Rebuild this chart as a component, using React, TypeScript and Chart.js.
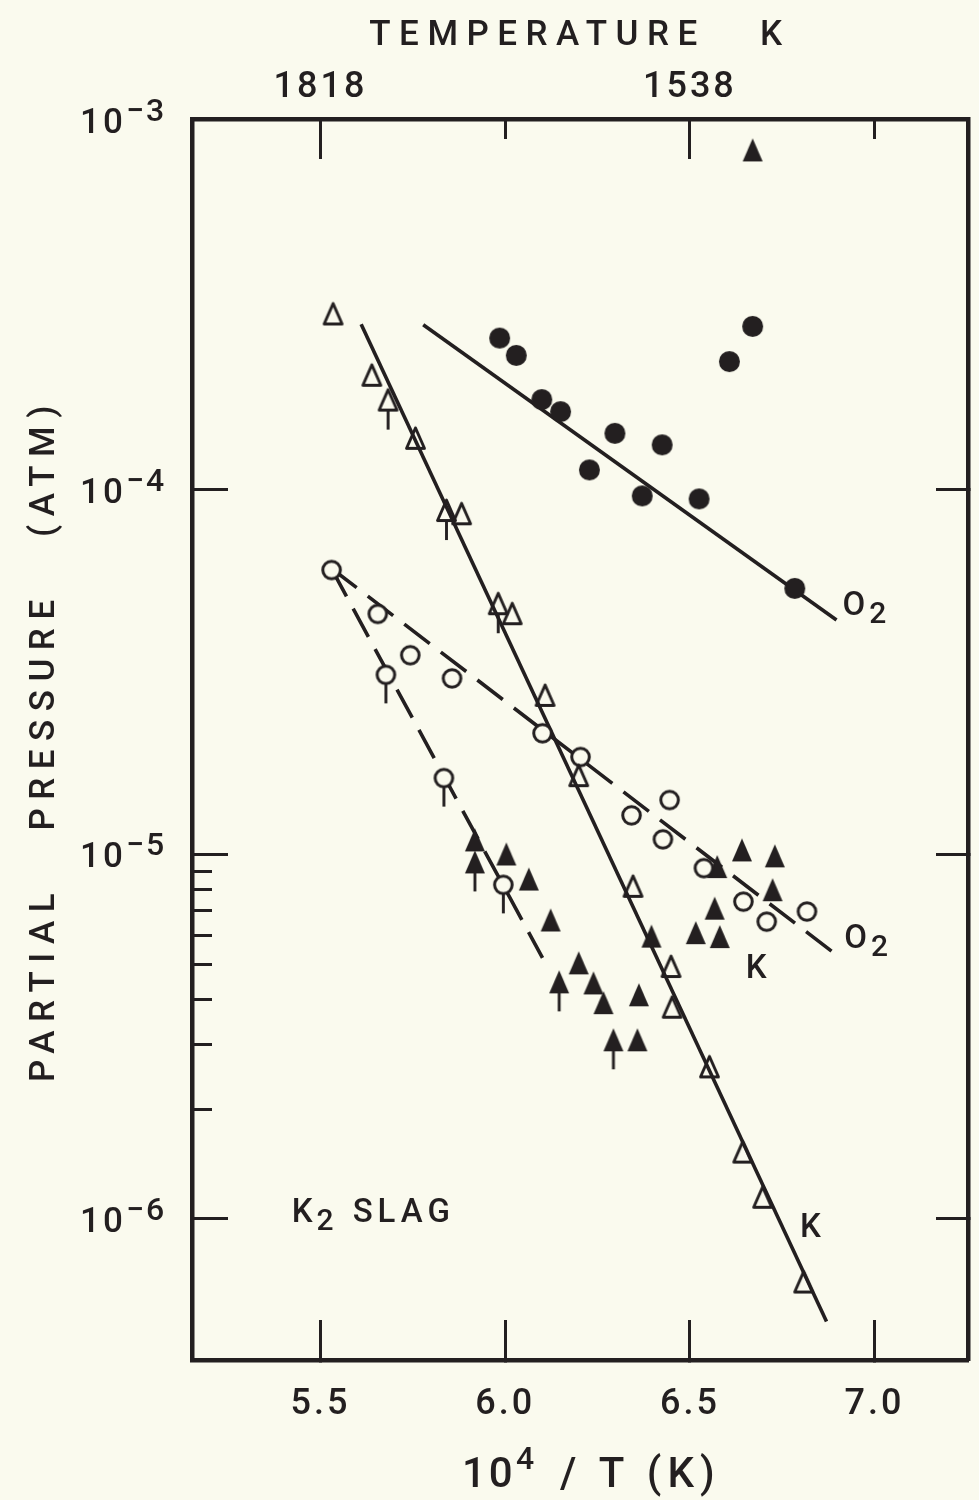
import React, { useEffect, useRef } from 'react';
import { Chart, registerables } from 'chart.js';

Chart.register(...registerables);

// ---------------- data ----------------
// O2 over K2 slag, solid circles, with solid fit line
const O2_SOLID_X = [5.985, 6.030, 6.099, 6.150, 6.297, 6.425, 6.228, 6.607, 6.670, 6.371, 6.525, 6.784];
const O2_SOLID_Y = [2.61e-4, 2.34e-4, 1.77e-4, 1.64e-4, 1.43e-4, 1.33e-4, 1.135e-4, 2.25e-4, 2.81e-4, 9.63e-5, 9.45e-5, 5.37e-5];
const O2_SOLID_FIT_X = [5.778, 6.897];
const O2_SOLID_FIT_Y = [2.84e-4, 4.40e-5];

// K, open triangles, with solid fit line
const K_OPEN_X = [5.534, 5.639, 5.683, 5.757, 5.841, 5.882, 5.981, 6.019, 6.108, 6.199, 6.346, 6.449, 6.452, 6.553, 6.643, 6.697, 6.808];
const K_OPEN_Y = [3.05e-4, 2.07e-4, 1.77e-4, 1.39e-4, 8.81e-5, 8.63e-5, 4.89e-5, 4.59e-5, 2.74e-5, 1.65e-5, 8.2e-6, 4.94e-6, 3.82e-6, 2.62e-6, 1.53e-6, 1.15e-6, 6.73e-7];
const K_OPEN_LOWER_LIMIT = [0, 0, 1, 0, 1, 0, 1, 0, 0, 0, 0, 0, 0, 0, 0, 0, 0];
const K_FIT_X = [5.61, 6.870];
const K_FIT_Y = [2.85e-4, 5.23e-7];

// O2, open circles, with two dashed fit lines
const O2_OPEN_X = [5.530, 5.655, 5.743, 5.677, 5.856, 6.101, 6.204, 5.834, 5.995, 6.342, 6.445, 6.427, 6.538, 6.645, 6.708, 6.817];
const O2_OPEN_Y = [6.03e-5, 4.57e-5, 3.52e-5, 3.11e-5, 3.04e-5, 2.15e-5, 1.85e-5, 1.62e-5, 8.25e-6, 1.28e-5, 1.41e-5, 1.10e-5, 9.17e-6, 7.42e-6, 6.54e-6, 6.97e-6];
const O2_OPEN_LOWER_LIMIT = [0, 0, 0, 1, 0, 0, 0, 1, 1, 0, 0, 0, 0, 0, 0, 0];
const O2_DASH_UPPER_X = [5.529, 6.900];
const O2_DASH_UPPER_Y = [6.1e-5, 5.27e-6];
const O2_DASH_LOWER_X = [5.529, 6.101];
const O2_DASH_LOWER_Y = [6.1e-5, 5.20e-6];

// K, solid triangles
const K_SOLID_X = [5.918, 5.918, 6.003, 6.064, 6.123, 6.199, 6.146, 6.239, 6.266, 6.362, 6.293, 6.358, 6.396, 6.516, 6.567, 6.581, 6.574, 6.641, 6.730, 6.724, 6.670];
const K_SOLID_Y = [1.096e-5, 9.54e-6, 1.003e-5, 8.56e-6, 6.61e-6, 5.04e-6, 4.47e-6, 4.44e-6, 3.92e-6, 4.12e-6, 3.10e-6, 3.10e-6, 5.97e-6, 6.10e-6, 7.12e-6, 5.95e-6, 9.26e-6, 1.029e-5, 9.91e-6, 8.0e-6, 8.57e-4];
const K_SOLID_LOWER_LIMIT = [0, 1, 0, 0, 0, 0, 1, 0, 0, 0, 1, 0, 0, 0, 0, 0, 0, 0, 0, 0, 0];

// axes
const X_MIN = 5.152;
const X_MAX = 7.253;
const Y_MIN = 4.1e-7;
const Y_MAX = 1.042e-3;
const X_TICKS = [5.5, 6.0, 6.5, 7.0];
const TOP_LABELED_TICKS = [5.5, 6.5];
const TOP_SHORT_TICKS = [6.0, 7.0];
const Y_MAJOR_TICKS = [1e-4, 1e-5, 1e-6];
const Y_MINOR_TICKS = [9e-6, 8e-6, 7e-6, 6e-6, 5e-6, 4e-6, 3e-6, 2e-6];
const Y_LABEL_DECADES = [-3, -4, -5, -6];

// text annotations anchored in data space
const ANNOTATIONS = [
  { base: 'O', sub: '2', tail: '', x: 6.913, y: 4.54e-5 },
  { base: 'O', sub: '2', tail: '', x: 6.918, y: 5.54e-6 },
  { base: 'K', sub: '', tail: '', x: 6.651, y: 4.58e-6 },
  { base: 'K', sub: '', tail: '', x: 6.798, y: 8.92e-7 },
  { base: 'K', sub: '2', tail: 'SLAG', x: 5.422, y: 9.81e-7 },
];

// ---------------- styling ----------------
const INK = '#231f20';
const BG = '#fafaee';
const FONT = 'Roboto, "Liberation Sans", Arial, sans-serif';
const WEIGHT = 500;

const pts = (xs: number[], ys: number[]) => xs.map((x, i) => ({ x, y: ys[i] }));

type Kind = 'filledCircle' | 'openCircle' | 'filledTriangle' | 'openTriangle';

function makeMarker(kind: Kind, arrow: boolean): HTMLCanvasElement {
  const isCircle = kind === 'filledCircle' || kind === 'openCircle';
  const hw = isCircle ? 10.5 : kind === 'openTriangle' ? 10.5 : 10;
  const hh = isCircle ? 10.5 : kind === 'openTriangle' ? 12 : 11.5;
  const stem = arrow ? 18 : 0;
  const W = Math.ceil(hw * 2 + 4);
  const H = Math.ceil((hh + stem) * 2 + 4);
  const c = document.createElement('canvas');
  c.width = W;
  c.height = H;
  const g = c.getContext('2d') as CanvasRenderingContext2D;
  const cx = W / 2;
  const cy = H / 2;
  g.strokeStyle = INK;
  g.fillStyle = INK;
  g.lineWidth = 2.9;
  g.lineJoin = 'round';
  if (arrow) {
    g.beginPath();
    g.moveTo(cx, cy + hh - 2);
    g.lineTo(cx, cy + hh + stem);
    g.stroke();
  }
  g.beginPath();
  if (kind === 'filledCircle') {
    g.arc(cx, cy, 10.5, 0, Math.PI * 2);
    g.fill();
  } else if (kind === 'openCircle') {
    g.arc(cx, cy, 8.8, 0, Math.PI * 2);
    g.fillStyle = BG;
    g.fill();
    g.lineWidth = 3;
    g.stroke();
  } else if (kind === 'filledTriangle') {
    g.moveTo(cx, cy - hh);
    g.lineTo(cx + hw, cy + hh);
    g.lineTo(cx - hw, cy + hh);
    g.closePath();
    g.fill();
  } else {
    const i = 1.5;
    g.moveTo(cx, cy - hh + i + 0.6);
    g.lineTo(cx + hw - i, cy + hh - i);
    g.lineTo(cx - hw + i, cy + hh - i);
    g.closePath();
    g.stroke();
  }
  return c;
}

function setFont(ctx: any, size: number, ls: number) {
  ctx.font = `${WEIGHT} ${size}px ${FONT}`;
  ctx.letterSpacing = `${ls}px`;
}

const stylePlugin = {
  id: 'figureStyle',
  beforeDraw(chart: any) {
    const ctx = chart.ctx;
    ctx.save();
    ctx.fillStyle = BG;
    ctx.fillRect(0, 0, chart.width, chart.height);
    ctx.restore();
    // spacing used by the axis titles (drawn before the datasets)
    ctx.letterSpacing = '8.5px';
    ctx.wordSpacing = '10px';
  },
  beforeDatasetsDraw(chart: any) {
    chart.ctx.letterSpacing = '0px';
    chart.ctx.wordSpacing = '0px';
  },
  afterDatasetsDraw(chart: any) {
    // spacing used by the tick labels (drawn after the datasets)
    chart.ctx.letterSpacing = '3px';
  },
  afterDraw(chart: any) {
    const ctx = chart.ctx;
    const ys = chart.scales.y;
    const xs = chart.scales.x;
    ctx.save();
    ctx.fillStyle = INK;
    ctx.textAlign = 'left';
    ctx.textBaseline = 'alphabetic';

    // y tick labels 10^-n (the top decade sits on the frame's top edge)
    for (const e of Y_LABEL_DECADES) {
      const py = e === Y_LABEL_DECADES[0] ? chart.chartArea.top + 1 : ys.getPixelForValue(Math.pow(10, e));
      const base = py + 13;
      setFont(ctx, 35, 3);
      ctx.fillText('10', 80, base);
      setFont(ctx, 32, 2);
      ctx.fillText('\u2212' + Math.abs(e), 126, base - 12);
    }

    // bottom axis title: 10^4 / T (K)
    setFont(ctx, 42, 3);
    ctx.fillText('10', 462, 1487);
    setFont(ctx, 32, 2);
    ctx.fillText('4', 516, 1469);
    setFont(ctx, 42, 6);
    ctx.fillText('/ T (K)', 560, 1487);

    // annotations
    for (const a of ANNOTATIONS) {
      const px = xs.getPixelForValue(a.x);
      const py = ys.getPixelForValue(a.y);
      setFont(ctx, 33, 3);
      ctx.fillText(a.base, px, py);
      let cur = px + ctx.measureText(a.base).width + 1;
      if (a.sub) {
        setFont(ctx, 30, 3);
        ctx.fillText(a.sub, cur, py + 8);
        cur += ctx.measureText(a.sub).width;
      }
      if (a.tail) {
        setFont(ctx, 33, 5);
        ctx.fillText(a.tail, cur + 16, py);
      }
    }
    ctx.restore();
    ctx.letterSpacing = '0px';
    ctx.wordSpacing = '0px';
  },
};

const tickFont = { family: FONT, size: 36, weight: WEIGHT };

function fixedTicks(values: number[]) {
  return (scale: any) => {
    scale.ticks = values.map((v) => ({ value: v }));
  };
}

export default function App() {
  const ref = useRef<HTMLCanvasElement | null>(null);

  useEffect(() => {
    if (!ref.current) return;

    const openTri = makeMarker('openTriangle', false);
    const openTriA = makeMarker('openTriangle', true);
    const fillTri = makeMarker('filledTriangle', false);
    const fillTriA = makeMarker('filledTriangle', true);
    const openCir = makeMarker('openCircle', false);
    const openCirA = makeMarker('openCircle', true);
    const fillCir = makeMarker('filledCircle', false);

    const lineDs = (label: string, data: any[], dash: number[]) => ({
      type: 'scatter' as const,
      label,
      data,
      showLine: true,
      borderColor: INK,
      borderWidth: 3.6,
      borderDash: dash,
      pointRadius: 0,
      fill: false,
      tension: 0,
      order: 2,
    });
    const markerDs = (label: string, data: any[], styles: any[]) => ({
      type: 'scatter' as const,
      label,
      data,
      showLine: false,
      pointStyle: styles,
      pointRadius: 10,
      borderColor: INK,
      backgroundColor: INK,
      order: 1,
    });

    const grid = (len: number) => ({
      drawOnChartArea: false,
      drawTicks: true,
      tickLength: len,
      tickColor: INK,
      tickWidth: 3,
      color: INK,
    });
    const border = { display: true, color: INK, width: 4.5 };

    const chart = new Chart(ref.current, {
      type: 'scatter',
      data: {
        datasets: [
          markerDs('O2 (solid circles)', pts(O2_SOLID_X, O2_SOLID_Y), O2_SOLID_X.map(() => fillCir)),
          markerDs('K (open triangles)', pts(K_OPEN_X, K_OPEN_Y), K_OPEN_LOWER_LIMIT.map((f) => (f ? openTriA : openTri))),
          markerDs('O2 (open circles)', pts(O2_OPEN_X, O2_OPEN_Y), O2_OPEN_LOWER_LIMIT.map((f) => (f ? openCirA : openCir))),
          markerDs('K (solid triangles)', pts(K_SOLID_X, K_SOLID_Y), K_SOLID_LOWER_LIMIT.map((f) => (f ? fillTriA : fillTri))),
          lineDs('O2 fit', pts(O2_SOLID_FIT_X, O2_SOLID_FIT_Y), []),
          lineDs('K fit', pts(K_FIT_X, K_FIT_Y), []),
          lineDs('O2 fit (upper dashed)', pts(O2_DASH_UPPER_X, O2_DASH_UPPER_Y), [32, 14]),
          lineDs('O2 fit (lower dashed)', pts(O2_DASH_LOWER_X, O2_DASH_LOWER_Y), [32, 14]),
        ] as any,
      },
      options: {
        animation: false,
        responsive: false,
        devicePixelRatio: 1,
        events: [],
        layout: { padding: 0 },
        plugins: {
          legend: { display: false },
          tooltip: { enabled: false },
          title: { display: false },
        },
        scales: {
          x: {
            type: 'linear',
            position: 'bottom',
            min: X_MIN,
            max: X_MAX,
            afterBuildTicks: fixedTicks(X_TICKS),
            afterFit: (s: any) => { s.height = 140; },
            grid: grid(-40),
            border,
            ticks: {
              autoSkip: false,
              maxRotation: 0,
              minRotation: 0,
              padding: 63,
              color: INK,
              font: tickFont,
              z: 1,
              callback: (v: any) => Number(v).toFixed(1),
            },
          },
          xt: {
            type: 'linear',
            position: 'top',
            weight: 1,
            min: X_MIN,
            max: X_MAX,
            afterBuildTicks: fixedTicks(TOP_LABELED_TICKS),
            afterFit: (s: any) => { s.height = 119; },
            grid: grid(-40),
            border,
            ticks: {
              autoSkip: false,
              maxRotation: 0,
              minRotation: 0,
              padding: 49,
              color: INK,
              font: tickFont,
              z: 1,
              callback: (v: any) => String(Math.round(1e4 / Number(v))),
            },
            title: {
              display: true,
              text: 'TEMPERATURE  K',
              color: INK,
              font: { family: FONT, size: 35, weight: WEIGHT },
              padding: { top: 15, bottom: 0 },
            },
          },
          xs: {
            type: 'linear',
            position: 'top',
            weight: 0,
            min: X_MIN,
            max: X_MAX,
            afterBuildTicks: fixedTicks(TOP_SHORT_TICKS),
            afterFit: (s: any) => { s.height = 0; },
            grid: grid(-20),
            border: { display: false },
            ticks: { display: false },
          },
          y: {
            type: 'logarithmic',
            position: 'left',
            weight: 1,
            min: Y_MIN,
            max: Y_MAX,
            afterBuildTicks: fixedTicks(Y_MAJOR_TICKS),
            afterFit: (s: any) => { s.width = 192; },
            grid: grid(-36),
            border,
            ticks: { display: false },
            title: {
              display: true,
              text: 'PARTIAL  PRESSURE  (ATM)',
              color: INK,
              font: { family: FONT, size: 35, weight: WEIGHT },
              padding: { top: 24, bottom: 0 },
            },
          },
          ym: {
            type: 'logarithmic',
            position: 'left',
            weight: 0,
            min: Y_MIN,
            max: Y_MAX,
            afterBuildTicks: fixedTicks(Y_MINOR_TICKS),
            afterFit: (s: any) => { s.width = 0; },
            grid: grid(-20),
            border: { display: false },
            ticks: { display: false },
          },
          yr: {
            type: 'logarithmic',
            position: 'right',
            min: Y_MIN,
            max: Y_MAX,
            afterBuildTicks: fixedTicks(Y_MAJOR_TICKS),
            afterFit: (s: any) => { s.width = 2; },
            grid: grid(-32),
            border,
            ticks: { display: false },
          },
        },
      } as any,
      plugins: [stylePlugin],
    });

    return () => chart.destroy();
  }, []);

  return (
    <div style={{ position: 'absolute', left: 0, top: 0, width: 979, height: 1500, background: BG }}>
      <canvas ref={ref} width={979} height={1500} style={{ display: 'block', width: 979, height: 1500 }} />
    </div>
  );
}
